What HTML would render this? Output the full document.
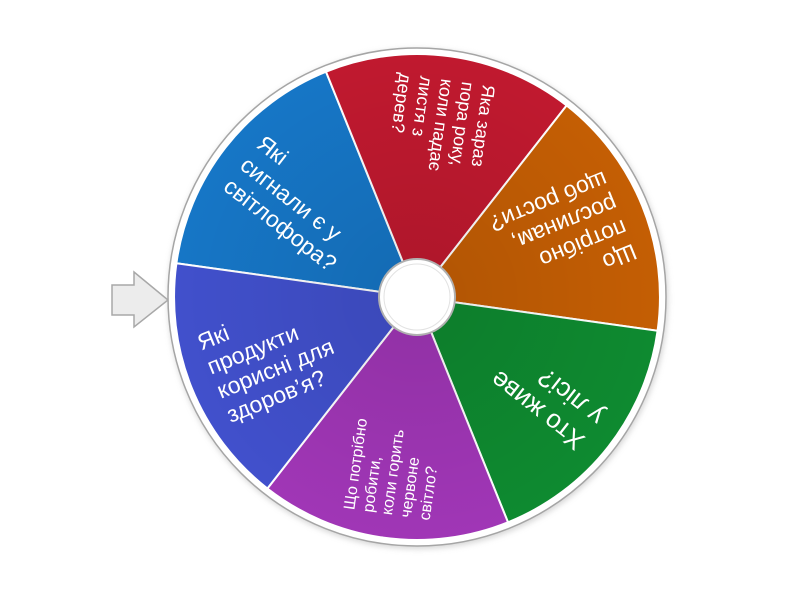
<!DOCTYPE html>
<html><head><meta charset="utf-8"><style>
html,body{margin:0;padding:0;background:#fff;}
svg{display:block;}
text{font-family:"Liberation Sans","DejaVu Sans",sans-serif;fill:#fff;}
</style></head><body>
<svg width="800" height="600" viewBox="0 0 800 600" xmlns="http://www.w3.org/2000/svg">
<defs>
<filter id="sh" x="-10%" y="-10%" width="120%" height="120%"><feGaussianBlur stdDeviation="3"/></filter>
<radialGradient id="shade" cx="417" cy="297" r="243" gradientUnits="userSpaceOnUse">
<stop offset="0" stop-color="#000" stop-opacity="0.1"/>
<stop offset="1" stop-color="#000" stop-opacity="0"/>
</radialGradient>
</defs>
<polygon points="112,285 134,285 134,272 168,300 134,327 134,315 112,315" fill="#ececec" stroke="#a8a8a8" stroke-width="1.5"/>
<circle cx="418" cy="299" r="250" fill="#bbb" filter="url(#sh)" opacity="0.6"/>
<circle cx="417" cy="297" r="249" fill="#fff" stroke="#a5a5a5" stroke-width="1.5"/>
<g stroke="#fff" stroke-width="2">
<path d="M417,297 L176.4,263.2 A243,243 0 0 1 326.0,71.7 Z" fill="#1676c6"/>
<path d="M417,297 L326.0,71.7 A243,243 0 0 1 566.6,105.5 Z" fill="#c0192f"/>
<path d="M417,297 L566.6,105.5 A243,243 0 0 1 657.6,330.8 Z" fill="#c45e04"/>
<path d="M417,297 L657.6,330.8 A243,243 0 0 1 508.0,522.3 Z" fill="#0e8a30"/>
<path d="M417,297 L508.0,522.3 A243,243 0 0 1 267.4,488.5 Z" fill="#a036b6"/>
<path d="M417,297 L267.4,488.5 A243,243 0 0 1 176.4,263.2 Z" fill="#4150cc"/>
</g>
<circle cx="417" cy="297" r="243" fill="url(#shade)"/>
<g>
<text transform="rotate(38 417 297)" font-size="23"><tspan x="197" y="278">Які</tspan><tspan x="197" y="305">сигнали є у</tspan><tspan x="197" y="332">світлофора?</tspan></text>
<text transform="rotate(98 417 297)" font-size="18"><tspan x="197" y="261.3">Яка зараз</tspan><tspan x="197" y="282.3">пора року,</tspan><tspan x="197" y="303.3">коли падає</tspan><tspan x="197" y="324.3">листя з</tspan><tspan x="197" y="345.3">дерев?</tspan></text>
<text transform="rotate(158 417 297)" font-size="23"><tspan x="197" y="266">Що</tspan><tspan x="197" y="292">потрібно</tspan><tspan x="197" y="318">рослинам,</tspan><tspan x="197" y="344">щоб рости?</tspan></text>
<text transform="rotate(218 417 297)" font-size="26"><tspan x="197" y="290.5">Хто живе</tspan><tspan x="197" y="321.5">у лісі?</tspan></text>
<text transform="rotate(278 417 297)" font-size="16"><tspan x="197" y="264.6">Що потрібно</tspan><tspan x="197" y="283.6">робити,</tspan><tspan x="197" y="302.6">коли горить</tspan><tspan x="197" y="321.6">червоне</tspan><tspan x="197" y="340.6">світло?</tspan></text>
<text transform="rotate(338 417 297)" font-size="23"><tspan x="197" y="266">Які</tspan><tspan x="197" y="292">продукти</tspan><tspan x="197" y="318">корисні для</tspan><tspan x="197" y="344">здоров’я?</tspan></text>
</g>
<circle cx="417" cy="297" r="38" fill="#fff" stroke="#b0b0b0" stroke-width="2"/>
<circle cx="417" cy="297" r="33" fill="#fff" stroke="#e2e2e2" stroke-width="1"/>
</svg>
</body></html>
